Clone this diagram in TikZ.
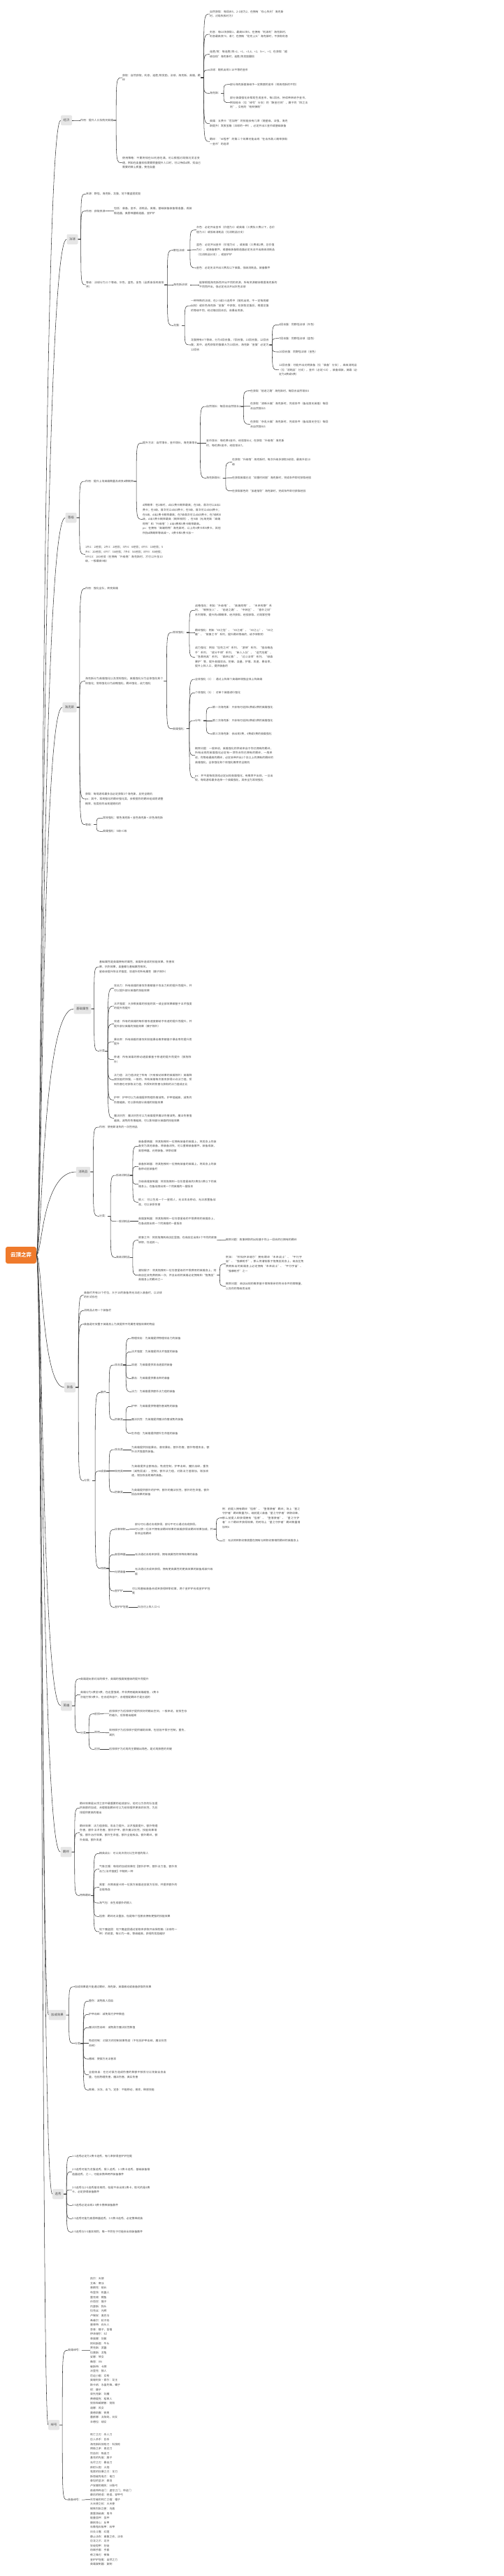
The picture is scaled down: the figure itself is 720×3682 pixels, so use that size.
\documentclass[tikz,border=0pt]{standalone}
\usepackage{fontspec}
\setmainfont{Noto Sans CJK SC}
\XeTeXlinebreaklocale "zh"
\XeTeXlinebreakskip=0pt plus 1pt
\usetikzlibrary{calc}
\definecolor{rootfill}{HTML}{EF7A2B}
\definecolor{topicfill}{HTML}{E6E6E6}
\definecolor{linkcol}{HTML}{3C3C3C}
\definecolor{textcol}{HTML}{4D4D4D}
\newcommand{\mapfont}{\fontsize{3.9}{6.6}\selectfont}
\tikzset{
  rootbox/.style={fill=rootfill, rounded corners=3pt, text=white, font=\fontsize{7.5}{9}\selectfont\bfseries, minimum width=44pt, minimum height=24pt, inner sep=0pt},
  topic/.style={fill=topicfill, rounded corners=2pt, text=textcol, font=\fontsize{4.4}{5.4}\selectfont, inner xsep=3.6pt, inner ysep=0pt, minimum height=14.5pt},
  txt/.style={anchor=west, inner sep=0pt, text=textcol, font=\mapfont, align=left},
  wrap/.style={txt, text width=#1},
  wrap/.default=112pt,
  link/.style={draw=linkcol, line width=0.55pt},
  brc/.style={to path={let \p1=(\tikztostart), \p2=(\tikztotarget) in (\p1) -- ++(4pt,0) .. controls (\x1+4pt,\y2) .. (\p2)}},
  rcurve/.style={to path={let \p1=(\tikztostart), \p2=(\tikztotarget) in (\p1) .. controls (\x1+8pt,\y1) and (\x1+8pt,\y2) .. (\p2)}}
}

\begin{document}
\begin{tikzpicture}[x=1pt, y=-1pt]
  \useasboundingbox (0,0) rectangle (720,3682);

  \node[rootbox] (root) at (30,1794) {云顶之弈};

  \node[topic] (jj) at (95,172) {经济};
  \node[topic] (fq) at (103.5,342) {法球};
  \node[topic] (dj) at (101.5,740) {等级};
  \node[topic] (hks) at (99.5,1011) {海克斯};
  \node[topic] (sx) at (118,1442) {基础属性};
  \node[topic] (xhp) at (119,1675) {消耗品};
  \node[topic] (zb) at (100,1983) {装备};
  \node[topic] (yx) at (95,2438) {英雄};
  \node[topic] (jb) at (94.5,2647) {羁绊};
  \node[topic] (jc) at (82,2880) {加成效果};
  \node[topic] (xx) at (83,3136) {选秀};
  \node[topic] (ch) at (77,3466) {绰号};

  % 经济
  \node[txt] (jj1) at (115,172) {作用：提升人口及购买英雄};
  \node[wrap] (jj2) at (175,111) {获取：自然获取，利息，连胜/败奖励，法球，海克斯，英雄，羁绊};
  \node[wrap] (jj3) at (175,232.7) {使用策略：不要将钱在50利息吃满，可以根据对局情况灵活变通，例如在血量较低需要质量提升人口时，可以持续d牌，找自己需要的牌上质量，挽住血量};
  \node[wrap=106pt] (jj21) at (300,20) {自然获取：每回合5，2-1前为2，在拥有“存心失利”海克斯时，对局失败时为7};
  \node[wrap] (jj22) at (300,49) {利息：每10块获取1，最高50块5，在拥有“利滚利”海克斯时，利息最高变70，收7；在拥有“花完上头”海克斯时，不获取利息};
  \node[wrap] (jj23) at (300,77.7) {连胜/败：每连胜/败=2，+1，=3,4，+2，5=<，+3；在获取“超级加倍”海克斯时，连胜/败奖励翻倍};
  \node[txt] (jj24) at (300,100) {法球：随机出现3-10不等的金币};
  \node[txt] (jj25) at (300,133.3) {海克斯：};
  \node[txt] (jj251) at (329,120.7) {部分海克斯直接给予一定数额的金币（视海克斯的不同）};
  \node[wrap] (jj252) at (329,146.7) {部分英雄强化会帮助生成金币，每1回合，持续带来给予金币，例如船长（见“绰号”分支）的“酬金已到”，瘸子的“四之法则”，女枪的“枪林弹雨”};
  \node[wrap] (jj26) at (300,176.7) {英雄：五费卡“厄加特”的技能会有几率（随星级，法强，海克斯提升）发放宝箱（法球的一种），必定开出三金币或基础装备};
  \node[wrap] (jj27) at (300,202.3) {羁绊：“AI程序”的第二个效果可能出现“在击杀敌人概率获取一金币”的选项};

  % 法球
  \node[txt] (fq1) at (123,277.3) {来源：野怪，海克斯，龙蛋，地下魔盗团奖励};
  \node[txt] (fq2) at (123,301.7) {作用：获取资源};
  \node[wrap] (fq21) at (163,301.3) {包括：装备，金币，消耗品，英雄，基础装备装备锻造器，成装锻造器，奥恩神器锻造器，金铲铲};
  \node[wrap] (fq3) at (123,407) {等级：法球分为三个等级，灰色，蓝色，金色（品质由低到高排序）};
  \node[txt] (fq31) at (248,357.7) {野怪法球：};
  \node[wrap] (fq311) at (281,328.7) {灰色：必定开出金币（价值为3）或英雄（三费及三费以下，总价值为三）或低级消耗品（见消耗品分支）};
  \node[wrap] (fq312) at (281,357) {蓝色：必定开出金币（价值为6），或英雄（三费或2费，总价值为6），或装备散件，或基础装备锻造器必定无法开出高级消耗品（见消耗品分支），或金铲铲};
  \node[txt] (fq313) at (281,383) {金色：必定无法开出三费及以下英雄，低级消耗品，装备散件};
  \node[txt] (fq32) at (248,407) {海克斯法球：};
  \node[wrap] (fq321) at (285,407) {能够根据海克斯而开出不同的资源，所有资源都会根据海克斯的不同而开出，但必定无法开出灰色法球};
  \node[txt] (fq33) at (248,465.3) {龙蛋：};
  \node[wrap] (fq331) at (273,437) {一种特殊的法球，在2-5或3-5选秀中（随机出现，不一定每局都出现）或彩色海克斯“金蛋”中获取，在获取龙蛋后，根据龙蛋的等级不同，经过相应回合后，会爆出资源。};
  \node[wrap] (fq332) at (273,493) {龙蛋拥有4个等级，分为4回合蛋，7回合蛋，10回合蛋，12回合蛋；其中，选秀获取的蛋最大为10回合，海克斯“金蛋”必定为12回合};
  \node[txt] (fq3321) at (399,464.3) {4回合蛋：同野怪法球（灰色）};
  \node[txt] (fq3322) at (399,483.7) {7回合蛋：同野怪法球（蓝色）};
  \node[txt] (fq3323) at (399,503) {10回合蛋：同野怪法球（金色）};
  \node[wrap] (fq3324) at (399,528.7) {12回合蛋：可能开出光明装备（见“装备”分支），高级消耗品（见“消耗品”分支），金币（必定>15），装备成装，英雄（必定为4费或5费）};

  % 等级
  \node[txt] (dj1) at (122,688) {作用：提升上场英雄数量及改变d牌概率};
  \node[txt] (dj11) at (204,633.3) {提升方法：自然增长，金币增长，海克斯增长};
  \node[txt] (dj111) at (295,581) {自然增长：每回合自然增长2};
  \node[txt] (dj1111) at (358,558.7) {在获取“前进之路”海克斯时，每回合自然增长5};
  \node[wrap] (dj1112) at (358,580.7) {在获取“清晰头脑”海克斯时，完成条件（备战席无英雄）每回合自然增长5};
  \node[wrap] (dj1113) at (358,606.3) {在获取“杂乱头脑”海克斯时，完成条件（备战席无空位）每回合自然增长5};
  \node[wrap] (dj112) at (295,633.3) {金币增长：每花费4金币，经验增长4；在获取“升级咯”海克斯时，每花费4金币，经验增长7。};
  \node[txt] (dj113) at (295,683.3) {海克斯增长：};
  \node[wrap] (dj1131) at (332,660.7) {在获取“升级咯”海克斯时，每次升级多获取3经验，最高升至10级};
  \node[txt] (dj1132) at (332,683) {在获取英雄已达“双重时间窗”海克斯时，完成条件即可获取经验};
  \node[txt] (dj1133) at (332,701.7) {在获取紫色的“加速指导”海克斯时，完成条件即可获取经验};
  \node[wrap] (dj12) at (204,742.3) {d牌概率：在2级时，d出1费卡概率最高；在3级，首次可以d出2费卡；在4级，首次可以d出3费卡；在5级，首次可以d出4费卡；在6级，d出2费卡概率最高；在7级首次可以d出5费卡；在7级和8级，d出3费卡概率最高（概率相同），在9级（无海克斯“高端购物”和“升级咯”）d出4费和5费卡概率最高。\\ps：在拥有“高端购物”海克斯时，以上的4费卡和5费卡，其他所指d牌概率等级减一，4费卡和5费卡加一};
  \node[wrap] (dj2) at (122,792.3) {1升2：2经验；2升3：2经验；3升4：6经验；4升5：10经验；5升6：20经验；6升7：36经验；7升8：56经验；8升9：80经验；9升10：100经验（在拥有“升级咯”海克斯时，才可以升至10级，一般最高9级）};

  % 海克斯
  \node[txt] (hk1) at (122,841.3) {作用：强化全队，转变英雄};
  \node[wrap] (hk2) at (122,973.7) {海克斯分为英雄强化以及常规强化，英雄强化分为全体强化和个体强化；常规强化分为战略强化，羁绊强化，战力强化};
  \node[txt] (hk21) at (247,904) {常规强化：};
  \node[wrap] (hk211) at (279,872.3) {战略强化：例如“升级咯”、“高端购物”、“未来视野”系列、“钢铁狂人”、“前进之路”、“中转区”、“意外之财”系列等等，提升的d牌概率、经济获取、经验获取、对局掌控等};
  \node[wrap] (hk212) at (279,904) {羁绊强化：例如“XX之冠”、“XX之魂”、“XX之心”、“XX之徽”、“故事之书”系列，提升羁绊等级的，给予转职的};
  \node[wrap] (hk213) at (279,939.3) {战力强化：例如“坦克之州”系列、“游侠”系列、“狙击精选手”系列、“成分不明”系列、“新人入队”、“诅咒冠冕”、“急救用具”系列、“森林幻影”、“过斗法师”系列、“绿森暴护”等，提升英雄攻击、防御、血量、护盾、攻速、暴击率，提升上阵人口，提供装备的};
  \node[txt] (hk22) at (247,1041.7) {英雄强化：};
  \node[txt] (hk221) at (279,971) {全体强化（C）：通过上阵某个英雄来增强全体上阵英雄};
  \node[txt] (hk222) at (279,990.3) {个体强化（S）：对单个英雄进行强化};
  \node[txt] (hk223) at (279,1030) {分布：};
  \node[txt] (hk2231) at (304,1011) {第一次海克斯：只会有可选择1费或2费的英雄强化};
  \node[txt] (hk2232) at (304,1030) {第二次海克斯：只会有可选择2费或3费的英雄强化};
  \node[txt] (hk2233) at (304,1049) {第三次海克斯：会出现3费，4费或5费的英雄强化};
  \node[wrap] (hk224) at (279,1079.7) {概率问题：一般来说，英雄强化的供给来自于你已拥有的羁绊，所有出现的英雄强化必定有一项符合你已拥有的羁绊，一般来说，你等级最高的羁绊，必定会带开出1个及以上的拥有的羁绊的英雄强化，全体强化和个体强化概率完全随机};
  \node[wrap] (hk225) at (279,1112) {ps：并不是每局游戏必定出现英雄强化，有概率不出现，一旦出现，每局游戏最多选择一个英雄强化，其余全为常规强化};
  \node[wrap] (hk3) at (122,1142) {获取：每局游戏最多且必定获取3个海克斯，且完全随机\\ps：其中，常规强化的羁绊强化类，会根据你的羁绊组成而调整概率，但类别的出现是随机的};
  \node[txt] (hk4) at (122,1178.7) {等级：};
  \node[txt] (hk41) at (147,1169.3) {常规强化：银色海克斯 < 金色海克斯 < 彩色海克斯};
  \node[txt] (hk42) at (147,1188.3) {英雄强化：S级=C级};

  % 基础属性
  \node[wrap=108pt] (sx1) at (142,1382) {基础属性是英雄拥有的属性，英雄所造成的技能效果，伤害效果，抗伤效果，血量都与基础属性相关。\\星级会提升除法术强度，攻速外的所有属性（瘸子除外）};
  \node[txt] (sx2) at (142,1502.3) {分类};
  \node[wrap] (sx21) at (163,1412.3) {攻击力：所有英雄的普攻伤害都基于攻击力和的提升而提升，并可以提升部分英雄的技能效果};
  \node[wrap] (sx22) at (163,1438) {法术强度：大多数英雄的技能的其一或全部效果都基于法术强度的提升而提升};
  \node[wrap] (sx23) at (163,1463.7) {攻速：所有的英雄的每秒普攻速度都给予攻速的提升而提升，并提升部分英雄的技能效果（瘸子除外）};
  \node[wrap] (sx24) at (163,1489) {暴击率：所有英雄的普攻和技能暴击概率都基于暴击率的提升而提升};
  \node[wrap] (sx25) at (163,1514.7) {移速：所有英雄的移动速度都基于移速的提升而提升（狼狗除外）};
  \node[wrap] (sx26) at (163,1543.3) {法力值：法力值决定了所有（只有被动效果的英雄除外）英雄释放技能的快慢，一般的，所有英雄每次普攻获得10点法力值，受到伤害也可获取法力值，所受到的伤害与获取的法力值成正比};
  \node[wrap] (sx27) at (163,1572.3) {护甲：护甲可以为英雄提供物理伤害减免，护甲值越高，减免的伤害越高，可以影响部分英雄的技能效果};
  \node[wrap] (sx28) at (163,1598.3) {魔法抗性：魔法抗性可以为英雄提供魔法伤害减免，魔法伤害值越高，减免的伤害越高，可以影响部分英雄的技能效果};

  % 消耗品
  \node[txt] (xh1) at (142,1611) {作用：使用即消失的一次性用品};
  \node[txt] (xh2) at (142,1738.3) {分类：};
  \node[txt] (xh21) at (166,1680) {低级消耗品};
  \node[wrap] (xh211) at (198,1638.3) {装备重铸器：将其拖拽到一位拥有装备的英雄上，将其身上的装备变为其他装备，原装备消失，可以重铸装备散件，装备成装，奥恩神器，光明装备，转职纹章};
  \node[wrap] (xh212) at (198,1667.3) {装备拆卸器：将其拖拽到一位拥有装备的英雄上，将其身上的装备移动至装备栏};
  \node[wrap] (xh213) at (198,1692.7) {次级英雄复制器：将其拖拽到一位任意星级的3费及3费以下的英雄身上，在备战席出现一个同英雄的一星版本};
  \node[wrap] (xh214) at (198,1718.3) {假人：可以生成一个一星假人，无法攻击移动，无法放置备战席，可以承受伤害};
  \node[txt] (xh22) at (166,1745.7) {一般消耗品};
  \node[wrap] (xh221) at (198,1745.7) {英雄复制器：将其拖拽到一位任意星级的不限费用的英雄身上，在备战席出现一个同英雄的一星版本};
  \node[txt] (xh23) at (166,1797.3) {高级消耗品};
  \node[wrap] (xh231) at (198,1772.7) {故事之书：将其拖拽到商店区里面，在商店区出现4个不同的故事转职，任选其一。};
  \node[txt] (xh2311) at (323,1772.3) {概率问题：故事转职的出现基于你上一回合的已拥有的羁绊};
  \node[wrap] (xh232) at (198,1822.7) {灌铅骰子：将其拖拽到一位任意星级的不限费用的英雄身上，则商店区会免费刷新一次，并且出现的英雄必定拥有和“拖拽至”英雄身上的羁绊之一};
  \node[wrap] (xh2321) at (323,1806.7) {例如：“铃铛伊泽瑞尔”拥有羁绊“未来战士”、“平行宇宙”、“强袭枪手”，那么将灌铅骰子拖拽至其身上，商店区免费刷新出的英雄身上必定拥有“未来战士”、“平行宇宙”、“强袭枪手”之一};
  \node[wrap] (xh2322) at (323,1838.3) {概率问题：商店出现的概率基于牌库剩余的符合条件的牌数量，以及你的等级而出现};

  % 装备
  \node[wrap] (zb1) at (120,1851) {装备栏共有10个栏位，大于10的装备将无法进入装备栏，以法球的形式存在};
  \node[txt] (zb2) at (120,1873.3) {消耗品占用一个装备栏};
  \node[txt] (zb3) at (120,1892.7) {装备是可安置于英雄身上为其提供不同属性增强效果的物品};
  \node[txt] (zb4) at (120,2116.3) {分类：};
  \node[txt] (zb41) at (144,1990.3) {散件};
  \node[txt] (zb411) at (164,1951) {攻击类};
  \node[txt] (zb4111) at (188,1913) {物理攻击：为英雄提供物理攻击力的装备};
  \node[txt] (zb4112) at (188,1932.3) {法术强度：为英雄提供法术强度的装备};
  \node[txt] (zb4113) at (188,1951.3) {攻速：为英雄提供攻击速度的装备};
  \node[txt] (zb4114) at (188,1970.3) {暴击：为英雄提供暴击率的装备};
  \node[txt] (zb4115) at (188,1989.3) {法力：为英雄提供额外法力值的装备};
  \node[txt] (zb412) at (164,2029.3) {防御类};
  \node[txt] (zb4121) at (188,2010.3) {护甲：为英雄提供物理伤害减免的装备};
  \node[txt] (zb4122) at (188,2029.3) {魔法抗性：为英雄提供魔法伤害减免的装备};
  \node[txt] (zb4123) at (188,2048.7) {生命值：为英雄提供额外生命值的装备};
  \node[txt] (zb42) at (144,2102.7) {成装};
  \node[txt] (zb421) at (164,2072) {攻击类};
  \node[wrap] (zb4211) at (188,2072) {为英雄提供技能暴击，普攻暴击，额外伤害，额外物理攻击，额外法术强度的装备。};
  \node[txt] (zb422) at (164,2102.7) {效用类};
  \node[wrap] (zb4221) at (188,2102.7) {为英雄提供全额吸血，免疫控制，护甲击碎，魔抗击碎，重伤（减免回血），控制，额外法力值，对敌法力值增加，增加攻速，增加攻击距离的装备。};
  \node[txt] (zb423) at (164,2133) {防御类};
  \node[wrap] (zb4231) at (188,2133) {为英雄提供额外的护甲，额外的魔法抗性，额外的生命值，额外回血效果的装备};
  \node[txt] (zb43) at (144,2241.7) {特殊};
  \node[txt] (zb431) at (164,2186.3) {纹章转职};
  \node[wrap] (zb4311) at (193,2185.7) {部分可以通过合成获得，部分不可以通过合成获得。\\可以使一位本不拥有该羁绊效果的英雄获得该羁绊效果加成，并影响全局羁绊};
  \node[wrap] (zb43111) at (318,2169.7) {例：前提人拥有羁绊“怪兽”、“堕落使者”羁绊；场上“星之守护者”羁绊数量为5，给前提人装备“星之守护者”转职纹章，那么前提人即获得拥有“怪兽”、“堕落使者”、“星之守护者”三个羁绊并获得效果，同时场上“星之守护者”羁绊数量增加到6};
  \node[txt] (zb43112) at (318,2202.3) {注：无法将转职纹章放置在拥有与转职纹章相同羁绊的英雄身上};
  \node[txt] (zb432) at (164,2222.3) {奥恩神器};
  \node[txt] (zb4321) at (193,2222.3) {无法通过合成来获得，拥有高属性的特殊效果的装备};
  \node[txt] (zb433) at (164,2246.7) {光明装备};
  \node[wrap] (zb4331) at (193,2246.7) {无法通过合成来获得，拥有更高属性的更高效果的装备成装升级版};
  \node[txt] (zb434) at (164,2274) {金铲铲};
  \node[wrap] (zb4341) at (189,2274) {可以和基础装备合成来获得转职纹章，两个金铲铲合成金铲铲冠冕};
  \node[txt] (zb435) at (164,2297.3) {金铲铲冠冕};
  \node[txt] (zb4351) at (197,2297.3) {队伍可上阵人口+1};

  % 英雄
  \node[txt] (yx1) at (115,2399.7) {英雄是玩家对战的棋子，英雄的强度随星级的提升而提升};
  \node[wrap] (yx2) at (115,2422.3) {英雄分为1费至5费，在这里强调，并非费用越高英雄越强，1费卡亦能打败5费卡，在合适阵容下，合理搭配羁绊才是王道的};
  \node[txt] (yx3) at (115,2476.7) {分类};
  \node[txt] (yx31) at (135,2449.7) {前排};
  \node[wrap] (yx311) at (156,2449) {前排棋子为后排棋子提供良好的输出空间，一般来说，前排生存的越久，后排输出越高};
  \node[txt] (yx32) at (135,2476.3) {效用};
  \node[wrap] (yx321) at (156,2476.7) {效用棋子为后排棋子提供辅助效果，包括但不限于控制，重伤，减抗};
  \node[txt] (yx33) at (135,2500.3) {后排};
  \node[txt] (yx331) at (156,2500.3) {后排棋子为对局的主要输出角色，是对局获胜的关键};

  % 羁绊
  \node[wrap] (jb1) at (114,2584.3) {羁绊效果是云顶之弈中最重要的组成部分，他可以为你的队伍提供高额的加成，合理搭配羁绊可以为前排提供更高的抗性，为后排提供更高的输出};
  \node[wrap] (jb2) at (114,2619.7) {羁绊效果：法力值获取，攻击力提升，法术强度提升，额外物理伤害，额外法术伤害，额外护甲，额外魔法抗性，技能效果增强，额外治疗效果，额外生命值，额外全能吸血，额外羁绊，额外英雄，额外攻速};
  \node[txt] (jb3) at (114,2709.3) {特殊羁绊};
  \node[txt] (jb31) at (142,2649.3) {精英战士：可以处决百分比生命值的敌人};
  \node[wrap] (jb32) at (142,2671.7) {气象主播：每局的加成效果在【额外护甲，额外法力值，额外攻击力/法术强度】中随机一种};
  \node[wrap] (jb33) at (142,2697.7) {黑客：召唤高星卡将一位我方英雄送至敌方后排，并提供额外的全能吸血};
  \node[txt] (jb34) at (142,2720) {淘气包：会生成额外的假人};
  \node[txt] (jb35) at (142,2739.3) {怪兽：羁绊无法叠加，但是每个怪兽会拥有更强的技能效果};
  \node[wrap] (jb36) at (142,2761) {地下魔盗团：地下魔盗团通过偷取来获取开启保险箱（法球的一种）的进度，每10为一级，等级越高，获得的奖励越好};

  % 加成效果
  \node[txt] (jc1) at (107,2839.7) {加成效果是只能通过羁绊，海克斯，英雄被动或装备获取的效果};
  \node[txt] (jc2) at (107,2920.7) {分类};
  \node[txt] (jc21) at (127,2860.3) {重伤：减免敌人回血};
  \node[txt] (jc22) at (127,2879.3) {护甲击碎：减免敌方护甲数值};
  \node[txt] (jc23) at (127,2898.3) {魔法抗性击碎：减免敌方魔法抗性数值};
  \node[wrap] (jc24) at (127,2920.7) {免疫控制：对敌方的控制效果免疫（不包括护甲击碎，魔法抗性击碎）};
  \node[txt] (jc25) at (127,2943) {缴械：使敌方无法普攻};
  \node[wrap] (jc26) at (127,2965.7) {全能吸血：在已对敌方造成伤害的数额中按百分比恢复自身血量，包括物理伤害，魔法伤害，真实伤害};
  \node[txt] (jc27) at (127,2987.3) {眩晕，冰冻，击飞，定身：不能移动，普攻，释放技能};

  % 选秀
  \node[txt] (xx1) at (103,3082.3) {1-1选秀必定为1费卡选秀，有几率获得金铲铲冠冕};
  \node[wrap] (xx2) at (103,3104.3) {2-5选秀可能为龙蛋选秀，假人选秀，1-3费卡选秀，基础装备锻造器选秀，之一，可能会携带两件装备散件};
  \node[wrap] (xx3) at (103,3130) {3-5选秀与2-5选秀基本相同，但是不会出现1费卡，取代的是4费卡，必定获得装备散件};
  \node[txt] (xx4) at (103,3152.3) {4-5选秀必定出现2-5费卡携带装备散件};
  \node[txt] (xx5) at (103,3171.3) {5-5选秀可能为奥恩神器选秀，3-5费卡选秀，必定携带成装};
  \node[txt] (xx6) at (103,3190.3) {6-5选秀与5-5基本相同，唯一不同在于可能会出现装备散件};

  % 绰号
  \node[txt] (ch1) at (97,3359.3) {英雄绰号：};
  \node[txt] (ch11) at (129,3359.4) {凯尔：天使\\艾希：寒冰\\普朗克：船长\\布里茨：机器人\\雷克顿：鳄鱼\\孙悟空：猴子\\内瑟斯：狗头\\拉克丝：光辉\\卢锡安：奥巴马\\希维尔：轮子妈\\墨菲特：石头人\\李青：瞎子，盲僧\\伊泽瑞尔：EZ\\菲奥娜：剑姬\\阿利斯塔：牛头\\贾克斯：武器\\拉莫斯：龙龟\\娑娜：琴女\\薇恩：VN\\崔斯特：卡牌\\沃里克：狼人\\厄运小姐：女枪\\奥瑞利安·索尔：龙王\\斯卡纳：水晶先锋，蝎子\\烬：瘸子\\亚托克斯：剑魔\\费德提克：稻草人\\努努和威朗普：努努\\迦娜：风女\\莫德凯撒：铁男\\蕾欧娜：太阳妈，日女\\辛德拉：球女};
  \node[txt] (ch2) at (97,3573) {装备绰号：};
  \node[txt] (ch21) at (129,3572.7) {死亡之刃：杀人刀\\巨人杀手：巨杀\\海克斯科技枪刃：科技枪\\朔极之矛：青龙刀\\饮血剑：吸血刀\\基克的先驱：旗子\\无尽之刃：暴击刀\\疾射火炮：火炮\\鬼索的狂暴之刃：羊刀\\斯塔缇克电刃：电刀\\泰坦的坚决：泰坦\\卢安娜的飓风：分裂弓\\兹若特传送门：虚空之门，传送门\\最后的轻语：轻语，穿甲弓\\灭世者的死亡之帽：帽子\\大天使之杖：大天使\\钢铁烈阳之匣：鸟盾\\莫雷洛秘典：鬼书\\能量圣杯：圣杯\\棘刺背心：反甲\\石像鬼石板甲：石甲\\日炎斗篷：红莲\\静止法衣：离散之衣，法衣\\巨龙之爪：龙牙\\狂徒铠甲：狂徒\\窃贼手套：手套\\夜之锋刃：夜锋\\金铲铲冠冕：自然之力\\英雄复制器：复制};

  % root to topics
  \draw[link] (root.east) to[rcurve] (jj.west);
  \draw[link] (root.east) to[rcurve] (fq.west);
  \draw[link] (root.east) to[rcurve] (dj.west);
  \draw[link] (root.east) to[rcurve] (hks.west);
  \draw[link] (root.east) to[rcurve] (sx.west);
  \draw[link] (root.east) to[rcurve] (xhp.west);
  \draw[link] (root.east) to[rcurve] (zb.west);
  \draw[link] (root.east) to[rcurve] (yx.west);
  \draw[link] (root.east) to[rcurve] (jb.west);
  \draw[link] (root.east) to[rcurve] (jc.west);
  \draw[link] (root.east) to[rcurve] (xx.west);
  \draw[link] (root.east) to[rcurve] (ch.west);

  \draw[link] (jj.east) to[brc] (jj1.west);
  \draw[link] (jj1.east) to[brc] (jj2.west);
  \draw[link] (jj1.east) to[brc] (jj3.west);
  \draw[link] (jj2.east) to[brc] (jj21.west);
  \draw[link] (jj2.east) to[brc] (jj22.west);
  \draw[link] (jj2.east) to[brc] (jj23.west);
  \draw[link] (jj2.east) to[brc] (jj24.west);
  \draw[link] (jj2.east) to[brc] (jj25.west);
  \draw[link] (jj2.east) to[brc] (jj26.west);
  \draw[link] (jj2.east) to[brc] (jj27.west);
  \draw[link] (jj25.east) to[brc] (jj251.west);
  \draw[link] (jj25.east) to[brc] (jj252.west);

  \draw[link] (fq.east) to[brc] (fq1.west);
  \draw[link] (fq.east) to[brc] (fq2.west);
  \draw[link] (fq.east) to[brc] (fq3.west);
  \draw[link] (fq2.east) to[brc] (fq21.west);
  \draw[link] (fq3.east) to[brc] (fq31.west);
  \draw[link] (fq3.east) to[brc] (fq32.west);
  \draw[link] (fq3.east) to[brc] (fq33.west);
  \draw[link] (fq31.east) to[brc] (fq311.west);
  \draw[link] (fq31.east) to[brc] (fq312.west);
  \draw[link] (fq31.east) to[brc] (fq313.west);
  \draw[link] (fq32.east) to[brc] (fq321.west);
  \draw[link] (fq33.east) to[brc] (fq331.west);
  \draw[link] (fq33.east) to[brc] (fq332.west);
  \draw[link] (fq332.east) to[brc] (fq3321.west);
  \draw[link] (fq332.east) to[brc] (fq3322.west);
  \draw[link] (fq332.east) to[brc] (fq3323.west);
  \draw[link] (fq332.east) to[brc] (fq3324.west);

  \draw[link] (dj.east) to[brc] (dj1.west);
  \draw[link] (dj.east) to[brc] (dj2.west);
  \draw[link] (dj1.east) to[brc] (dj11.west);
  \draw[link] (dj1.east) to[brc] (dj12.west);
  \draw[link] (dj11.east) to[brc] (dj111.west);
  \draw[link] (dj11.east) to[brc] (dj112.west);
  \draw[link] (dj11.east) to[brc] (dj113.west);
  \draw[link] (dj111.east) to[brc] (dj1111.west);
  \draw[link] (dj111.east) to[brc] (dj1112.west);
  \draw[link] (dj111.east) to[brc] (dj1113.west);
  \draw[link] (dj113.east) to[brc] (dj1131.west);
  \draw[link] (dj113.east) to[brc] (dj1132.west);
  \draw[link] (dj113.east) to[brc] (dj1133.west);

  \draw[link] (hks.east) to[brc] (hk1.west);
  \draw[link] (hks.east) to[brc] (hk2.west);
  \draw[link] (hks.east) to[brc] (hk3.west);
  \draw[link] (hks.east) to[brc] (hk4.west);
  \draw[link] (hk2.east) to[brc] (hk21.west);
  \draw[link] (hk2.east) to[brc] (hk22.west);
  \draw[link] (hk21.east) to[brc] (hk211.west);
  \draw[link] (hk21.east) to[brc] (hk212.west);
  \draw[link] (hk21.east) to[brc] (hk213.west);
  \draw[link] (hk22.east) to[brc] (hk221.west);
  \draw[link] (hk22.east) to[brc] (hk222.west);
  \draw[link] (hk22.east) to[brc] (hk223.west);
  \draw[link] (hk22.east) to[brc] (hk224.west);
  \draw[link] (hk22.east) to[brc] (hk225.west);
  \draw[link] (hk223.east) to[brc] (hk2231.west);
  \draw[link] (hk223.east) to[brc] (hk2232.west);
  \draw[link] (hk223.east) to[brc] (hk2233.west);
  \draw[link] (hk4.east) to[brc] (hk41.west);
  \draw[link] (hk4.east) to[brc] (hk42.west);

  \draw[link] (sx.east) to[brc] (sx1.west);
  \draw[link] (sx.east) to[brc] (sx2.west);
  \draw[link] (sx2.east) to[brc] (sx21.west);
  \draw[link] (sx2.east) to[brc] (sx22.west);
  \draw[link] (sx2.east) to[brc] (sx23.west);
  \draw[link] (sx2.east) to[brc] (sx24.west);
  \draw[link] (sx2.east) to[brc] (sx25.west);
  \draw[link] (sx2.east) to[brc] (sx26.west);
  \draw[link] (sx2.east) to[brc] (sx27.west);
  \draw[link] (sx2.east) to[brc] (sx28.west);

  \draw[link] (xhp.east) to[brc] (xh1.west);
  \draw[link] (xhp.east) to[brc] (xh2.west);
  \draw[link] (xh2.east) to[brc] (xh21.west);
  \draw[link] (xh2.east) to[brc] (xh22.west);
  \draw[link] (xh2.east) to[brc] (xh23.west);
  \draw[link] (xh21.east) to[brc] (xh211.west);
  \draw[link] (xh21.east) to[brc] (xh212.west);
  \draw[link] (xh21.east) to[brc] (xh213.west);
  \draw[link] (xh21.east) to[brc] (xh214.west);
  \draw[link] (xh22.east) to[brc] (xh221.west);
  \draw[link] (xh23.east) to[brc] (xh231.west);
  \draw[link] (xh23.east) to[brc] (xh232.west);
  \draw[link] (xh231.east) to[brc] (xh2311.west);
  \draw[link] (xh232.east) to[brc] (xh2321.west);
  \draw[link] (xh232.east) to[brc] (xh2322.west);

  \draw[link] (zb.east) to[brc] (zb1.west);
  \draw[link] (zb.east) to[brc] (zb2.west);
  \draw[link] (zb.east) to[brc] (zb3.west);
  \draw[link] (zb.east) to[brc] (zb4.west);
  \draw[link] (zb4.east) to[brc] (zb41.west);
  \draw[link] (zb4.east) to[brc] (zb42.west);
  \draw[link] (zb4.east) to[brc] (zb43.west);
  \draw[link] (zb41.east) to[brc] (zb411.west);
  \draw[link] (zb41.east) to[brc] (zb412.west);
  \draw[link] (zb411.east) to[brc] (zb4111.west);
  \draw[link] (zb411.east) to[brc] (zb4112.west);
  \draw[link] (zb411.east) to[brc] (zb4113.west);
  \draw[link] (zb411.east) to[brc] (zb4114.west);
  \draw[link] (zb411.east) to[brc] (zb4115.west);
  \draw[link] (zb412.east) to[brc] (zb4121.west);
  \draw[link] (zb412.east) to[brc] (zb4122.west);
  \draw[link] (zb412.east) to[brc] (zb4123.west);
  \draw[link] (zb42.east) to[brc] (zb421.west);
  \draw[link] (zb42.east) to[brc] (zb422.west);
  \draw[link] (zb42.east) to[brc] (zb423.west);
  \draw[link] (zb421.east) to[brc] (zb4211.west);
  \draw[link] (zb422.east) to[brc] (zb4221.west);
  \draw[link] (zb423.east) to[brc] (zb4231.west);
  \draw[link] (zb43.east) to[brc] (zb431.west);
  \draw[link] (zb43.east) to[brc] (zb432.west);
  \draw[link] (zb43.east) to[brc] (zb433.west);
  \draw[link] (zb43.east) to[brc] (zb434.west);
  \draw[link] (zb43.east) to[brc] (zb435.west);
  \draw[link] (zb431.east) to[brc] (zb4311.west);
  \draw[link] (zb4311.east) to[brc] (zb43111.west);
  \draw[link] (zb4311.east) to[brc] (zb43112.west);
  \draw[link] (zb432.east) to[brc] (zb4321.west);
  \draw[link] (zb433.east) to[brc] (zb4331.west);
  \draw[link] (zb434.east) to[brc] (zb4341.west);
  \draw[link] (zb435.east) to[brc] (zb4351.west);

  \draw[link] (yx.east) to[brc] (yx1.west);
  \draw[link] (yx.east) to[brc] (yx2.west);
  \draw[link] (yx.east) to[brc] (yx3.west);
  \draw[link] (yx3.east) to[brc] (yx31.west);
  \draw[link] (yx3.east) to[brc] (yx32.west);
  \draw[link] (yx3.east) to[brc] (yx33.west);
  \draw[link] (yx31.east) to[brc] (yx311.west);
  \draw[link] (yx32.east) to[brc] (yx321.west);
  \draw[link] (yx33.east) to[brc] (yx331.west);

  \draw[link] (jb.east) to[brc] (jb1.west);
  \draw[link] (jb.east) to[brc] (jb2.west);
  \draw[link] (jb.east) to[brc] (jb3.west);
  \draw[link] (jb3.east) to[brc] (jb31.west);
  \draw[link] (jb3.east) to[brc] (jb32.west);
  \draw[link] (jb3.east) to[brc] (jb33.west);
  \draw[link] (jb3.east) to[brc] (jb34.west);
  \draw[link] (jb3.east) to[brc] (jb35.west);
  \draw[link] (jb3.east) to[brc] (jb36.west);

  \draw[link] (jc.east) to[brc] (jc1.west);
  \draw[link] (jc.east) to[brc] (jc2.west);
  \draw[link] (jc2.east) to[brc] (jc21.west);
  \draw[link] (jc2.east) to[brc] (jc22.west);
  \draw[link] (jc2.east) to[brc] (jc23.west);
  \draw[link] (jc2.east) to[brc] (jc24.west);
  \draw[link] (jc2.east) to[brc] (jc25.west);
  \draw[link] (jc2.east) to[brc] (jc26.west);
  \draw[link] (jc2.east) to[brc] (jc27.west);

  \draw[link] (xx.east) to[brc] (xx1.west);
  \draw[link] (xx.east) to[brc] (xx2.west);
  \draw[link] (xx.east) to[brc] (xx3.west);
  \draw[link] (xx.east) to[brc] (xx4.west);
  \draw[link] (xx.east) to[brc] (xx5.west);
  \draw[link] (xx.east) to[brc] (xx6.west);

  \draw[link] (ch.east) to[brc] (ch1.west);
  \draw[link] (ch.east) to[brc] (ch2.west);
  \draw[link] (ch1.east) to[brc] (ch11.west);
  \draw[link] (ch2.east) to[brc] (ch21.west);

\end{tikzpicture}
\end{document}
